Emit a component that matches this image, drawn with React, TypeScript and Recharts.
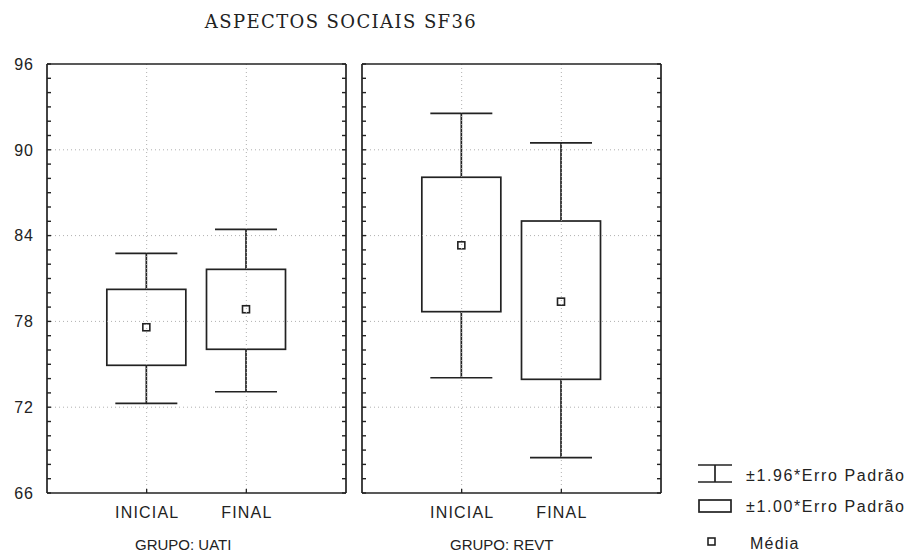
import React from 'react';
import { ComposedChart, XAxis, YAxis, Bar, ReferenceLine } from 'recharts';

// ---------- data ----------
const title = 'ASPECTOS SOCIAIS SF36';
const categories = ['INICIAL', 'FINAL'];
const groups = ['GRUPO: UATI', 'GRUPO: REVT'];

const uatiMean = [77.59, 78.85];
const uatiBoxLow = [74.93, 76.05];
const uatiBoxHigh = [80.24, 81.64];
const uatiWhiskerLow = [72.27, 73.08];
const uatiWhiskerHigh = [82.76, 84.44];

const revtMean = [83.32, 79.38];
const revtBoxLow = [78.68, 73.95];
const revtBoxHigh = [88.08, 85.02];
const revtWhiskerLow = [74.06, 68.47];
const revtWhiskerHigh = [92.55, 90.48];

const yDomain = [66, 96];
const yMajorTicks = [66, 72, 78, 84, 90, 96];
const yMinorStep = 1;
const gridValues = [72, 78, 84, 90];
const legendLabels = ['\u00b11.96*Erro Padr\u00e3o', '\u00b11.00*Erro Padr\u00e3o', 'M\u00e9dia'];

// ---------- build tables ----------
const buildRows = (mean: number[], bLo: number[], bHi: number[], wLo: number[], wHi: number[]) =>
  categories.map((cat, i) => ({
    cat,
    mean: mean[i],
    box: [bLo[i], bHi[i]],
    whisker: [wLo[i], wHi[i]],
  }));

const uatiRows = buildRows(uatiMean, uatiBoxLow, uatiBoxHigh, uatiWhiskerLow, uatiWhiskerHigh);
const revtRows = buildRows(revtMean, revtBoxLow, revtBoxHigh, revtWhiskerLow, revtWhiskerHigh);

const allTicks: number[] = [];
for (let v = yDomain[0]; v <= yDomain[1]; v += yMinorStep) allTicks.push(v);

// ---------- styles ----------
const SANS = '"Liberation Sans", Arial, sans-serif';
const SERIF = '"DejaVu Serif", "Liberation Serif", serif';
const INK = '#222';
const GRID = '#b0b0b0';
const LW = 1.7;
const BOX_W = 79;
const CAP_W = 62;
const MEAN_S = 7;
const TICK_LEN = 4;

const LeftTick = (props: any) => {
  const { x, y, payload, showLabels } = props;
  const v = payload.value;
  const major = yMajorTicks.includes(v);
  return (
    <g>
      <line x1={x} y1={y} x2={x + TICK_LEN} y2={y} stroke={INK} strokeWidth={1.4} />
      {showLabels && major ? (
        <text x={x - 13} y={y} dy="0.36em" textAnchor="end" fontFamily={SANS} fontSize={16}
          letterSpacing={1} fill={INK}>{v}</text>
      ) : null}
    </g>
  );
};

const RightTick = (props: any) => {
  const { x, y } = props;
  return <line x1={x} y1={y} x2={x - TICK_LEN} y2={y} stroke={INK} strokeWidth={1.4} />;
};

const CatTick = (props: any) => {
  const { x, y, payload } = props;
  return (
    <g>
      <line x1={x} y1={y} x2={x} y2={y - TICK_LEN} stroke={INK} strokeWidth={1.3} />
      <text x={x + 0.6} y={y + 25} textAnchor="middle" fontFamily={SANS} fontSize={16}
        letterSpacing={1.2} fill={INK}>{payload.value}</text>
    </g>
  );
};

const GroupLabel = (props: any) => {
  const { viewBox, text } = props;
  const vb = viewBox || { x: 0, y: 0, width: 0, height: 0 };
  return (
    <text x={vb.x + 88} y={vb.y + 57} textAnchor="start" fontFamily={SANS} fontSize={15}
      letterSpacing={0} fill={INK}>{text}</text>
  );
};

const BoxShape = (props: any) => {
  const { x, y, width, height, payload } = props;
  if (!payload) return null;
  const [wLo, wHi] = payload.whisker;
  const [bLo, bHi] = payload.box;
  const top = Math.min(y, y + height);
  const h = Math.abs(height);
  const k = h / (wHi - wLo);
  const py = (v: number) => top + (wHi - v) * k;
  const cx = x + width / 2;
  const yWH = py(wHi), yWL = py(wLo), yBH = py(bHi), yBL = py(bLo), yM = py(payload.mean);
  return (
    <g>
      <line x1={cx} y1={yWH} x2={cx} y2={yBH} stroke={INK} strokeWidth={LW} />
      <line x1={cx} y1={yBL} x2={cx} y2={yWL} stroke={INK} strokeWidth={LW} />
      <line x1={cx - CAP_W / 2} y1={yWH} x2={cx + CAP_W / 2} y2={yWH} stroke={INK} strokeWidth={LW} />
      <line x1={cx - CAP_W / 2} y1={yWL} x2={cx + CAP_W / 2} y2={yWL} stroke={INK} strokeWidth={LW} />
      <rect x={cx - BOX_W / 2} y={yBH} width={BOX_W} height={yBL - yBH} fill="#fff" stroke={INK} strokeWidth={LW} />
      <rect x={cx - MEAN_S / 2} y={yM - MEAN_S / 2} width={MEAN_S} height={MEAN_S} fill="#fff" stroke={INK} strokeWidth={1.6} />
    </g>
  );
};

type PanelProps = {
  rows: any[];
  group: string;
  left: number;
  width: number;
  leftAxisW: number;
  marginLeft: number;
  showLabels: boolean;
};

const Panel = ({ rows, group, left, width, leftAxisW, marginLeft, showLabels }: PanelProps) => {
  const rightAxisW = 4;
  const marginRight = 4;
  const plotW = width - leftAxisW - marginLeft - rightAxisW - marginRight;
  const pad = plotW / 6;
  return (
    <div style={{ position: 'absolute', left, top: 0 }}>
      <ComposedChart width={width} height={553} data={rows}
        margin={{ top: 64, right: marginRight, bottom: 0, left: marginLeft }}>
        <XAxis dataKey="cat" type="category" height={60} padding={{ left: pad, right: pad }}
          axisLine={{ stroke: INK, strokeWidth: LW }} tickLine={false} tickSize={0} tickMargin={0}
          interval={0} tick={<CatTick />} label={<GroupLabel text={group} />} />
        <YAxis yAxisId="l" type="number" domain={yDomain} ticks={allTicks} interval={0}
          allowDataOverflow width={leftAxisW} axisLine={{ stroke: INK, strokeWidth: LW }}
          tickLine={false} tickSize={0} tickMargin={0} tick={<LeftTick showLabels={showLabels} />} />
        <YAxis yAxisId="r" orientation="right" type="number" domain={yDomain} ticks={allTicks}
          interval={0} allowDataOverflow width={rightAxisW} axisLine={{ stroke: INK, strokeWidth: LW }}
          tickLine={false} tickSize={0} tickMargin={0} tick={<RightTick />} />
        {gridValues.map((g) => (
          <ReferenceLine key={'h' + g} yAxisId="l" y={g} stroke={GRID} strokeWidth={1}
            strokeDasharray="1 3" />
        ))}
        {categories.map((c) => (
          <ReferenceLine key={'v' + c} yAxisId="l" x={c} stroke={GRID} strokeWidth={1}
            strokeDasharray="1 3" />
        ))}
        <ReferenceLine yAxisId="l" y={yDomain[1]} stroke={INK} strokeWidth={LW} />
        <Bar yAxisId="l" dataKey="whisker" barSize={BOX_W} shape={BoxShape}
          isAnimationActive={false} />
      </ComposedChart>
    </div>
  );
};

const Legend = () => (
  <g fontFamily={SANS} fontSize={16} fill={INK}>
    {/* whisker icon */}
    <line x1={698} y1={465} x2={732} y2={465} stroke={INK} strokeWidth={LW} />
    <line x1={715} y1={465} x2={715} y2={482} stroke={INK} strokeWidth={LW} />
    <line x1={698} y1={482} x2={732} y2={482} stroke={INK} strokeWidth={LW} />
    <text x={746} y={475} dy="0.36em" letterSpacing={1.6}>{legendLabels[0]}</text>
    {/* box icon */}
    <rect x={699} y={500} width={32} height={12} fill="#fff" stroke={INK} strokeWidth={LW} />
    <text x={746} y={506} dy="0.36em" letterSpacing={1.6}>{legendLabels[1]}</text>
    {/* mean icon */}
    <rect x={708} y={538} width={7} height={7} fill="#fff" stroke={INK} strokeWidth={1.6} />
    <text x={750} y={543} dy="0.36em" letterSpacing={1.2}>{legendLabels[2]}</text>
  </g>
);

export default function App() {
  return (
    <div style={{ position: 'absolute', left: 0, top: 0, width: 920, height: 553, background: '#fff', overflow: 'hidden' }}>
      <Panel rows={uatiRows} group={groups[0]} left={0} width={354} leftAxisW={40} marginLeft={7} showLabels />
      <Panel rows={revtRows} group={groups[1]} left={354} width={315} leftAxisW={4} marginLeft={4} showLabels={false} />
      <svg width={920} height={553} style={{ position: 'absolute', left: 0, top: 0, pointerEvents: 'none' }}>
        <text x={341} y={28} textAnchor="middle" fontFamily={SERIF} fontSize={18} letterSpacing={1.4}
          fill={INK}>{title}</text>
        <Legend />
      </svg>
    </div>
  );
}
